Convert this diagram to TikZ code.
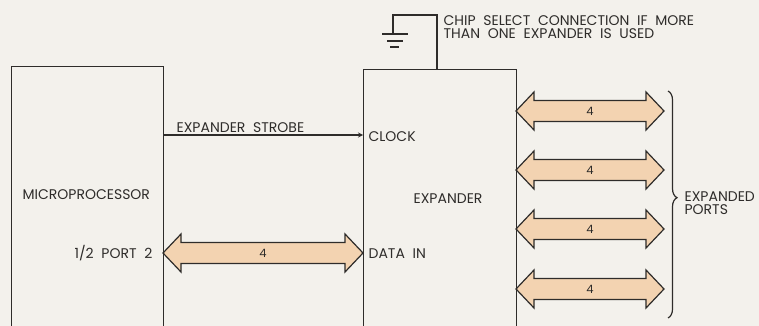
\documentclass[tikz,border=0pt]{standalone}
\usepackage{fontspec}
\setmainfont{Poppins}
\usetikzlibrary{decorations.pathreplacing}

\definecolor{paper}{HTML}{F3F1EC}
\definecolor{ink}{HTML}{2E2C2A}
\definecolor{busfill}{HTML}{F3D3B1}

% label font with wide word gaps
\newcommand{\lblfont}{\fontsize{14}{13.5}\selectfont\spaceskip=0.55em\relax}

% double-headed bus arrow: left x, right x, centre y
\newcommand{\busarrow}[3]{%
  \draw[bus] (#1,#3) -- ++(18,-19) -- ++(0,8.5) -- ++(#2-#1-36,0)
    -- ++(0,-8.5) -- ++(18,19) -- ++(-18,19) -- ++(0,-8.5)
    -- ++(-#2+#1+36,0) -- ++(0,8.5) -- cycle;}

\begin{document}
\begin{tikzpicture}[x=1pt, y=-1pt, line width=1.2pt, >=stealth,
    lbl/.style={font=\lblfont, text=ink, inner sep=0pt},
    num/.style={font=\fontsize{11.5}{12}\selectfont, text=ink, inner sep=0pt},
    box/.style={draw=ink, anchor=north west, inner sep=0pt},
    bus/.style={draw=ink, fill=busfill, line join=miter}]
    \useasboundingbox (0,0) rectangle (759,326);
    \clip (0,0) rectangle (759,326);
    \fill[paper] (0,0) rectangle (759,326);
    % Blocks (run off the bottom edge)
    \node[box, minimum width=152pt, minimum height=300pt] (mp) at (11,66) {};
    \node[box, minimum width=153pt, minimum height=300pt] (exp) at (363,69) {};
    \node[lbl, anchor=base west] (mptxt) at (22,199.5) {MICROPROCESSOR};
    \node[lbl, anchor=base west] (exptxt) at (413,203) {EXPANDER};
    % Strobe line
    \draw[->, draw=ink] (mp.east |- 0,135) -- (exp.west |- 0,135);
    \node[lbl, anchor=base west] (strobe) at (176,132) {EXPANDER STROBE};
    \node[lbl, anchor=base west] (clock) at (368,141) {CLOCK};
    % Chip select to ground
    \coordinate (gnd) at (393,34);
    \draw[ink] (exp.north -| 437,0) -- (437,15) -- (gnd |- 0,15) -- (gnd);
    \draw[ink] (gnd) ++(-11,0) -- ++(26,0);
    \draw[ink] (gnd) ++(-6,7) -- ++(16,0);
    \draw[ink] (gnd) ++(-3,13) -- ++(9,0);
    \node[lbl, anchor=north west, align=left] (cs) at (443,15)
        {CHIP SELECT CONNECTION IF MORE\\THAN ONE EXPANDER IS USED};
    % Data in bus
    \busarrow{163}{363}{253}
    \node[num] (b0) at (263,253) {4};
    \node[lbl, anchor=base east] (port) at (153,258) {1/2 PORT 2};
    \node[lbl, anchor=base west] (din) at (368,258) {DATA IN};
    % Expanded ports
    \foreach \y [count=\i] in {111,170,229,289} {
        \busarrow{516}{664}{\y}
        \node[num] (b\i) at (590,\y) {4};
    }
    \draw[ink, decorate, decoration={brace, amplitude=9pt, aspect=0.47}]
        (668,91) -- (668,318);
    \node[lbl, anchor=north west, align=left] (ports) at (684,191)
        {EXPANDED\\PORTS};
\end{tikzpicture}
\end{document}
